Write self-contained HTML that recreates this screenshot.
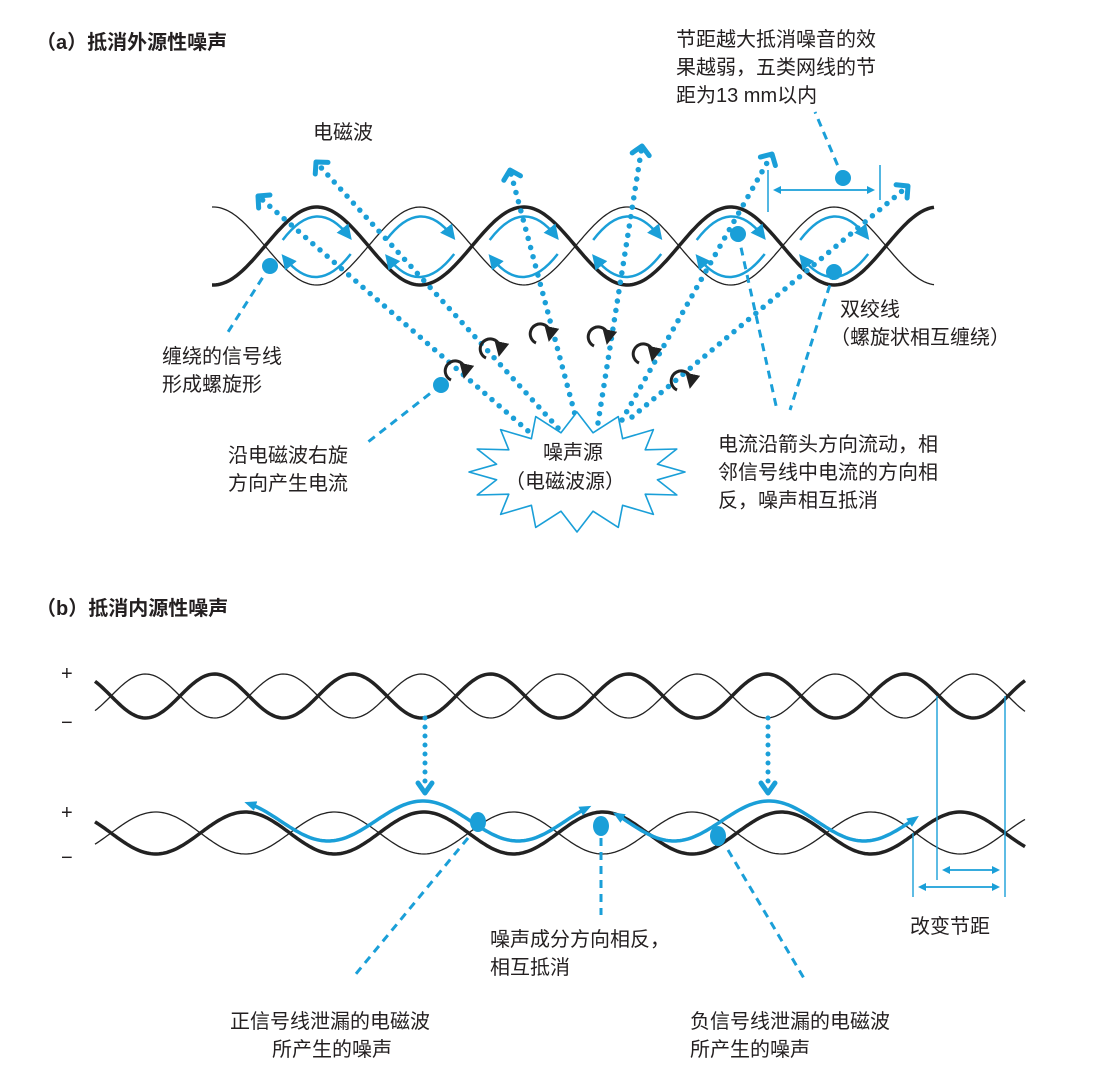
<!DOCTYPE html>
<html><head><meta charset="utf-8"><style>
html,body{margin:0;padding:0;background:#fff;}
svg{display:block}
text{font-family:"Liberation Sans","Noto Sans CJK SC",sans-serif;font-size:20px;fill:#231f20}
</style></head><body>
<svg id="s" width="1108" height="1080" viewBox="0 0 1108 1080" xmlns="http://www.w3.org/2000/svg">
<defs>
<marker id="ah" markerWidth="6" markerHeight="6" refX="4" refY="3" orient="auto" markerUnits="strokeWidth"><path d="M0,0 L6,3 L0,6 Z" fill="#1a9fd8"/></marker>
<marker id="ak" markerWidth="5" markerHeight="5" refX="3" refY="2.5" orient="auto" markerUnits="strokeWidth"><path d="M0,0 L5,2.5 L0,5 Z" fill="#222"/></marker>
<marker id="ad" markerWidth="8" markerHeight="8" refX="5" refY="4" orient="auto-start-reverse" markerUnits="userSpaceOnUse"><path d="M0,0 L8,4 L0,8 Z" fill="#1a9fd8"/></marker>
<marker id="ab" markerWidth="12" markerHeight="12" refX="6" refY="6" orient="auto-start-reverse" markerUnits="userSpaceOnUse"><path d="M0,1 L12,6 L0,11 Z" fill="#1a9fd8"/></marker>
</defs>
<g id="g"></g>
<text x="36" y="49" style="font-weight:bold">（a）抵消外源性噪声</text>
<text x="676" y="46">节距越大抵消噪音的效</text>
<text x="676" y="74">果越弱，五类网线的节</text>
<text x="676" y="102">距为13 mm以内</text>
<text x="313" y="139">电磁波</text>
<text x="840" y="316">双绞线</text>
<text x="830" y="344">（螺旋状相互缠绕）</text>
<text x="162" y="363">缠绕的信号线</text>
<text x="162" y="391">形成螺旋形</text>
<text x="228" y="462">沿电磁波右旋</text>
<text x="228" y="490">方向产生电流</text>
<text x="543" y="459">噪声源</text>
<text x="505" y="488">（电磁波源）</text>
<text x="718" y="451">电流沿箭头方向流动，相</text>
<text x="718" y="479">邻信号线中电流的方向相</text>
<text x="718" y="507">反，噪声相互抵消</text>
<text x="36" y="615" style="font-weight:bold">（b）抵消内源性噪声</text>
<text x="61" y="680">+</text><text x="61" y="729">−</text>
<text x="61" y="819">+</text><text x="61" y="864">−</text>
<text x="490" y="946">噪声成分方向相反，</text>
<text x="490" y="974">相互抵消</text>
<text x="910" y="933">改变节距</text>
<text x="230" y="1028">正信号线泄漏的电磁波</text>
<text x="272" y="1056">所产生的噪声</text>
<text x="690" y="1028">负信号线泄漏的电磁波</text>
<text x="690" y="1056">所产生的噪声</text>
</svg>
<script>
var B="#1a9fd8",g=document.getElementById('g'),NS="http://www.w3.org/2000/svg";
function el(t,a){var e=document.createElementNS(NS,t);for(var k in a)e.setAttribute(k,a[k]);g.appendChild(e);return e;}
function wave(x0,x1,cx0,hp,cy,amp,sign){var d="";for(var x=x0;x<=x1;x+=2){var y=cy-sign*amp*Math.sin(Math.PI*(x-cx0)/hp);d+=(d?"L":"M")+x.toFixed(1)+","+y.toFixed(1);}return d;}
// (a) pair
el('path',{d:wave(212,935,265,103.5,246,39,-1),stroke:"#222","stroke-width":1.3,fill:"none"});
el('path',{d:wave(212,935,265,103.5,246,39,1),stroke:"#222","stroke-width":3.5,fill:"none"});
for(var i=0;i<6;i++){var c=265+103.5*i+51.7;
 el('path',{d:"M"+(c-34)+",240 Q"+c+",195 "+(c+32)+",236",stroke:B,"stroke-width":2.5,fill:"none","marker-end":"url(#ah)"});
 el('path',{d:"M"+(c+34)+",254 Q"+c+",298 "+(c-32)+",258",stroke:B,"stroke-width":2.5,fill:"none","marker-end":"url(#ah)"});}
var rays=[[535,437,258,196],[558,428,316,162],[577,422,510,170],[598,423,642,146],[622,420,772,154],[632,417,908,186]];
rays.forEach(function(r){el('path',{d:"M"+r[0]+","+r[1]+"L"+r[2]+","+r[3],stroke:B,"stroke-width":5.5,"stroke-linecap":"round","stroke-dasharray":"0 9.5",fill:"none"});
 var a=Math.atan2(r[3]-r[1],r[2]-r[0]),hx=r[2],hy=r[3],L=12;
 el('path',{d:"M"+(hx-L*Math.cos(a-0.8))+","+(hy-L*Math.sin(a-0.8))+"L"+hx+","+hy+"L"+(hx-L*Math.cos(a+0.8))+","+(hy-L*Math.sin(a+0.8)),stroke:B,"stroke-width":5,fill:"none","stroke-linecap":"round","stroke-linejoin":"round"});});
[[455,370],[490,348],[540,333],[598,336],[643,353],[681,380]].forEach(function(p){var x=p[0],y=p[1],r=10;
 el('path',{d:"M"+(x-4)+","+(y+r)+" A"+r+","+r+" 0 1 1 "+(x+r)+","+(y+3),stroke:"#222","stroke-width":3,fill:"none","marker-end":"url(#ak)"});});
var pts="",n=16,cx=577,cy=472;for(var k=0;k<2*n;k++){var ang=Math.PI*k/n-Math.PI/2,rx=(k%2?82:108),ry=(k%2?40:60);pts+=(cx+rx*Math.cos(ang)).toFixed(1)+","+(cy+ry*Math.sin(ang)).toFixed(1)+" ";}
el('polygon',{points:pts,fill:"#fff",stroke:B,"stroke-width":1.6,"stroke-linejoin":"round"});
function dash(x1,y1,x2,y2){el('line',{x1:x1,y1:y1,x2:x2,y2:y2,stroke:B,"stroke-width":3,"stroke-dasharray":"8 6"});}
dash(270,266,228,332);dash(441,385,368,442);dash(843,178,815,112);dash(738,234,777,410);dash(834,272,790,410);
[[270,266],[441,385],[738,234],[834,272],[843,178]].forEach(function(p){el('circle',{cx:p[0],cy:p[1],r:8,fill:B});});
el('line',{x1:768,y1:170,x2:768,y2:212,stroke:B,"stroke-width":1.5});
el('line',{x1:880,y1:165,x2:880,y2:200,stroke:B,"stroke-width":1.5});
el('line',{x1:776,y1:190,x2:872,y2:190,stroke:B,"stroke-width":1.8,"marker-start":"url(#ad)","marker-end":"url(#ad)"});
// (b) top pair
el('path',{d:wave(95,1025,111,69,696,22,1),stroke:"#222","stroke-width":1.3,fill:"none"});
el('path',{d:wave(95,1025,111,69,696,22,-1),stroke:"#222","stroke-width":3.5,fill:"none"});
// bottom pair
el('path',{d:wave(95,1025,111,89.4,833,21,1),stroke:"#222","stroke-width":1.3,fill:"none"});
el('path',{d:wave(95,1025,111,89.4,833,21,-1),stroke:"#222","stroke-width":3.5,fill:"none"});
function bw(x0,x1,xt){var d="";for(var x=x0;x<=x1;x+=2){var y=821-20*Math.cos(2*Math.PI*(x-xt)/190);d+=(d?"L":"M")+x+","+y.toFixed(1);}return d;}
el('path',{d:bw(250,586,423),stroke:B,"stroke-width":3.5,fill:"none","marker-start":"url(#ab)","marker-end":"url(#ab)"});
el('path',{d:bw(618,914,769),stroke:B,"stroke-width":3.5,fill:"none","marker-start":"url(#ab)","marker-end":"url(#ab)"});
[425,768].forEach(function(x){el('line',{x1:x,y1:718,x2:x,y2:786,stroke:B,"stroke-width":5,"stroke-linecap":"round","stroke-dasharray":"0 9"});
 el('path',{d:"M"+(x-7)+",783 L"+x+",793 L"+(x+7)+",783",stroke:B,"stroke-width":5,fill:"none","stroke-linecap":"round","stroke-linejoin":"round"});});
dash(468,838,355,975);dash(601,838,601,915);dash(728,850,805,980);
[[478,822],[601,826],[718,836]].forEach(function(p){el('ellipse',{cx:p[0],cy:p[1],rx:8,ry:10,fill:B});});
el('line',{x1:937,y1:696,x2:937,y2:880,stroke:B,"stroke-width":1.4});
el('line',{x1:1005,y1:696,x2:1005,y2:897,stroke:B,"stroke-width":1.4});
el('line',{x1:913,y1:833,x2:913,y2:897,stroke:B,"stroke-width":1.4});
el('line',{x1:945,y1:870,x2:997,y2:870,stroke:B,"stroke-width":1.8,"marker-start":"url(#ad)","marker-end":"url(#ad)"});
el('line',{x1:921,y1:887,x2:997,y2:887,stroke:B,"stroke-width":1.8,"marker-start":"url(#ad)","marker-end":"url(#ad)"});
var s=document.getElementById('s');s.appendChild(g);Array.prototype.slice.call(s.querySelectorAll('text')).forEach(function(t){s.appendChild(t);});
</script>
</body></html>
